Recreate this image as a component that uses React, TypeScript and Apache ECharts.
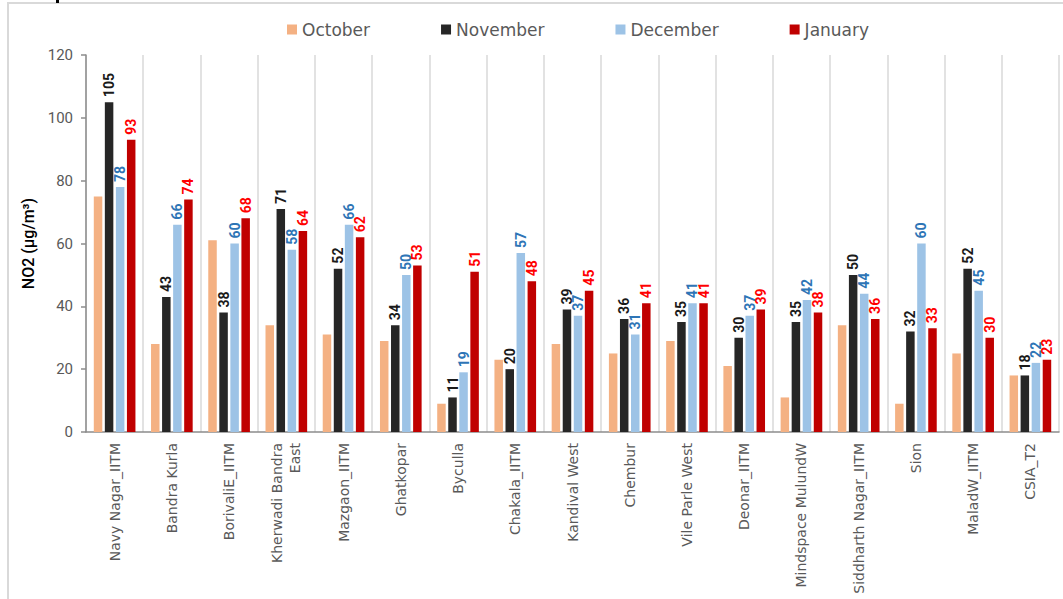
import React, { useEffect, useRef } from "react";
import * as echarts from "echarts";

const categories = [
  "Navy Nagar_IITM",
  "Bandra Kurla",
  "BorivaliE_IITM",
  "Kherwadi Bandra\nEast",
  "Mazgaon_IITM",
  "Ghatkopar",
  "Byculla",
  "Chakala_IITM",
  "Kandival West",
  "Chembur",
  "Vile Parle West",
  "Deonar_IITM",
  "Mindspace MulundW",
  "Siddharth Nagar_IITM",
  "Sion",
  "MaladW_IITM",
  "CSIA_T2",
];

const october = [75, 28, 61, 34, 31, 29, 9, 23, 28, 25, 29, 21, 11, 34, 9, 25, 18];
const november = [105, 43, 38, 71, 52, 34, 11, 20, 39, 36, 35, 30, 35, 50, 32, 52, 18];
const december = [78, 66, 60, 58, 66, 50, 19, 57, 37, 31, 41, 37, 42, 44, 60, 45, 22];
const january = [93, 74, 68, 64, 62, 53, 51, 48, 45, 41, 41, 39, 38, 36, 33, 30, 23];

const FONT = "Roboto, 'DejaVu Sans', sans-serif";
const WIDE = "'DejaVu Sans', Roboto, sans-serif";

function labelFor(color: string) {
  return {
    show: true,
    position: "top" as const,
    rotate: 90,
    align: "left" as const,
    verticalAlign: "middle" as const,
    distance: 5,
    color,
    fontWeight: "bold" as const,
    fontSize: 14,
    fontFamily: FONT,
  };
}

export default function App() {
  const ref = useRef<HTMLDivElement>(null);
  useEffect(() => {
    if (!ref.current) return;
    const chart = echarts.init(ref.current, undefined, { renderer: "svg" });
    chart.setOption({
      animation: false,
      backgroundColor: "#ffffff",
      textStyle: { fontFamily: FONT },
      graphic: [
        {
          type: "rect",
          shape: { x: 8, y: 3, width: 1100, height: 700 },
          style: { fill: "none", stroke: "#d9d9d9", lineWidth: 2 },
          silent: true,
        },
        {
          type: "rect",
          shape: { x: 56, y: 0, width: 3, height: 3 },
          style: { fill: "#000000" },
          silent: true,
        },
      ],
      legend: {
        top: 16,
        left: 282,
        itemWidth: 10,
        itemHeight: 10,
        itemGap: 71,
        icon: "rect",
        textStyle: { fontSize: 17, color: "#595959", fontFamily: WIDE },
        data: ["October", "November", "December", "January"],
      },
      grid: { left: 86, right: 4, top: 55, bottom: 167, containLabel: false },
      xAxis: {
        type: "category",
        data: categories,
        axisLine: { show: true, lineStyle: { color: "#8c8c8c", width: 1.5 } },
        axisTick: { show: false },
        splitLine: { show: true, lineStyle: { color: "#d9d9d9", width: 1.5 } },
        axisLabel: {
          rotate: 90,
          interval: 0,
          fontSize: 14,
          color: "#595959",
          margin: 11,
          lineHeight: 18,
          align: "right",
          fontFamily: WIDE,
        },
      },
      yAxis: {
        type: "value",
        min: 0,
        max: 120,
        interval: 20,
        name: "NO2 (µg/m³)",
        nameLocation: "middle",
        nameGap: 39,
        nameTextStyle: { fontSize: 16, color: "#000000", fontFamily: FONT, fontWeight: 500 },
        axisLine: { show: true, lineStyle: { color: "#8c8c8c", width: 1.5 } },
        axisTick: { show: true, length: 5, lineStyle: { color: "#8c8c8c", width: 1.5 } },
        splitLine: { show: false },
        axisLabel: { fontSize: 15, color: "#595959", margin: 13, fontFamily: FONT },
      },
      series: [
        {
          name: "October",
          type: "bar",
          data: october,
          barWidth: 8.5,
          barGap: "30%",
          itemStyle: { color: "#f4b183" },
        },
        {
          name: "November",
          type: "bar",
          data: november,
          barWidth: 8.5,
          barGap: "30%",
          itemStyle: { color: "#262626" },
          label: labelFor("#1a1a1a"),
        },
        {
          name: "December",
          type: "bar",
          data: december,
          barWidth: 8.5,
          barGap: "30%",
          itemStyle: { color: "#9dc3e6" },
          label: labelFor("#2e75b6"),
        },
        {
          name: "January",
          type: "bar",
          data: january,
          barWidth: 8.5,
          barGap: "30%",
          itemStyle: { color: "#c00000" },
          label: labelFor("#ff0000"),
        },
      ],
    });
    return () => chart.dispose();
  }, []);
  return (
    <div
      ref={ref}
      style={{ position: "absolute", left: 0, top: 0, width: 1063, height: 599 }}
    />
  );
}
